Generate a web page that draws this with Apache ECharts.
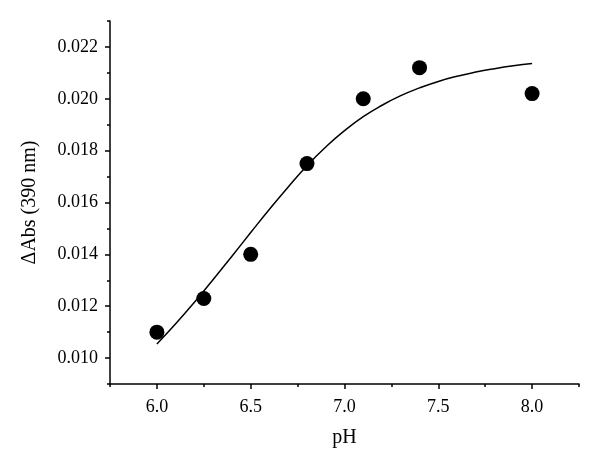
<!DOCTYPE html>
<html>
<head>
<meta charset="utf-8">
<script src="https://cdn.jsdelivr.net/npm/echarts@6/dist/echarts.min.js"></script>
<style>
  html, body { margin: 0; padding: 0; background: #fff; }
  #chart { width: 600px; height: 469px; }
</style>
</head>
<body>
<div id="chart"></div>
<script>
  // measured points
  var phPoints = [6.0, 6.25, 6.5, 6.8, 7.1, 7.4, 8.0]
  var absPoints = [0.0110, 0.0123, 0.0140, 0.0175, 0.0200, 0.0212, 0.0202]

  // fitted curve
  var fitPh = [6.0, 6.1, 6.2, 6.3, 6.4, 6.5, 6.6, 6.7, 6.8, 6.9, 7.0, 7.1, 7.2, 7.3, 7.4, 7.5, 7.6, 7.7, 7.8, 7.9, 8.0]
  var fitAbs = [0.01054, 0.01132, 0.01215, 0.01303, 0.01393, 0.01484, 0.01574, 0.01660, 0.01742, 0.01814, 0.01877, 0.01931, 0.01975, 0.02012, 0.02042, 0.02067, 0.02087, 0.02103, 0.02116, 0.02127, 0.02136]

  var xTicks = [6.0, 6.5, 7.0, 7.5, 8.0]
  var yTicks = [0.010, 0.012, 0.014, 0.016, 0.018, 0.020, 0.022]

  var font = 'Liberation Serif'
  var chart = echarts.init(document.getElementById('chart'))

  chart.setOption({
    animation: false,
    grid: { left: 110, right: 21, top: 21, bottom: 85 },
    xAxis: [
      {
        type: 'value',
        min: 5.75,
        max: 8.25,
        name: 'pH',
        nameLocation: 'middle',
        nameGap: 44,
        nameTextStyle: { fontFamily: font, fontSize: 20, color: '#000' },
        axisLine: { lineStyle: { color: '#000', width: 1.5 } },
        axisTick: { customValues: xTicks, length: 5, lineStyle: { color: '#000', width: 1.5 } },
        axisLabel: {
          customValues: xTicks,
          margin: 14,
          fontFamily: font,
          fontSize: 18,
          color: '#000',
          formatter: function (v) { return v.toFixed(1) }
        },
        splitLine: { show: false }
      },
      {
        // minor ticks
        type: 'value',
        position: 'bottom',
        min: 5.75,
        max: 8.25,
        interval: 0.25,
        axisLine: { show: false },
        axisTick: { length: 3, lineStyle: { color: '#000', width: 1.5 } },
        axisLabel: { show: false },
        splitLine: { show: false }
      }
    ],
    yAxis: [
      {
        type: 'value',
        min: 0.009,
        max: 0.023,
        name: 'ΔAbs (390 nm)',
        nameLocation: 'middle',
        nameGap: 70,
        nameTextStyle: { fontFamily: font, fontSize: 20, color: '#000' },
        axisLine: { show: true, lineStyle: { color: '#000', width: 1.5 } },
        axisTick: { show: true, customValues: yTicks, length: 5, lineStyle: { color: '#000', width: 1.5 } },
        axisLabel: {
          customValues: yTicks,
          margin: 12,
          fontFamily: font,
          fontSize: 18,
          color: '#000',
          formatter: function (v) { return v.toFixed(3) }
        },
        splitLine: { show: false }
      },
      {
        // minor ticks
        type: 'value',
        position: 'left',
        min: 0.009,
        max: 0.023,
        interval: 0.001,
        axisLine: { show: false },
        axisTick: { show: true, length: 3, lineStyle: { color: '#000', width: 1.5 } },
        axisLabel: { show: false },
        splitLine: { show: false }
      }
    ],
    series: [
      {
        type: 'line',
        xAxisIndex: 0,
        yAxisIndex: 0,
        data: fitPh.map(function (p, i) { return [p, fitAbs[i]] }),
        smooth: true,
        showSymbol: false,
        lineStyle: { color: '#000', width: 1.5 },
        z: 2
      },
      {
        type: 'scatter',
        xAxisIndex: 0,
        yAxisIndex: 0,
        data: phPoints.map(function (p, i) { return [p, absPoints[i]] }),
        symbolSize: 15,
        itemStyle: { color: '#000', opacity: 1 },
        z: 3
      }
    ]
  })
</script>
</body>
</html>
